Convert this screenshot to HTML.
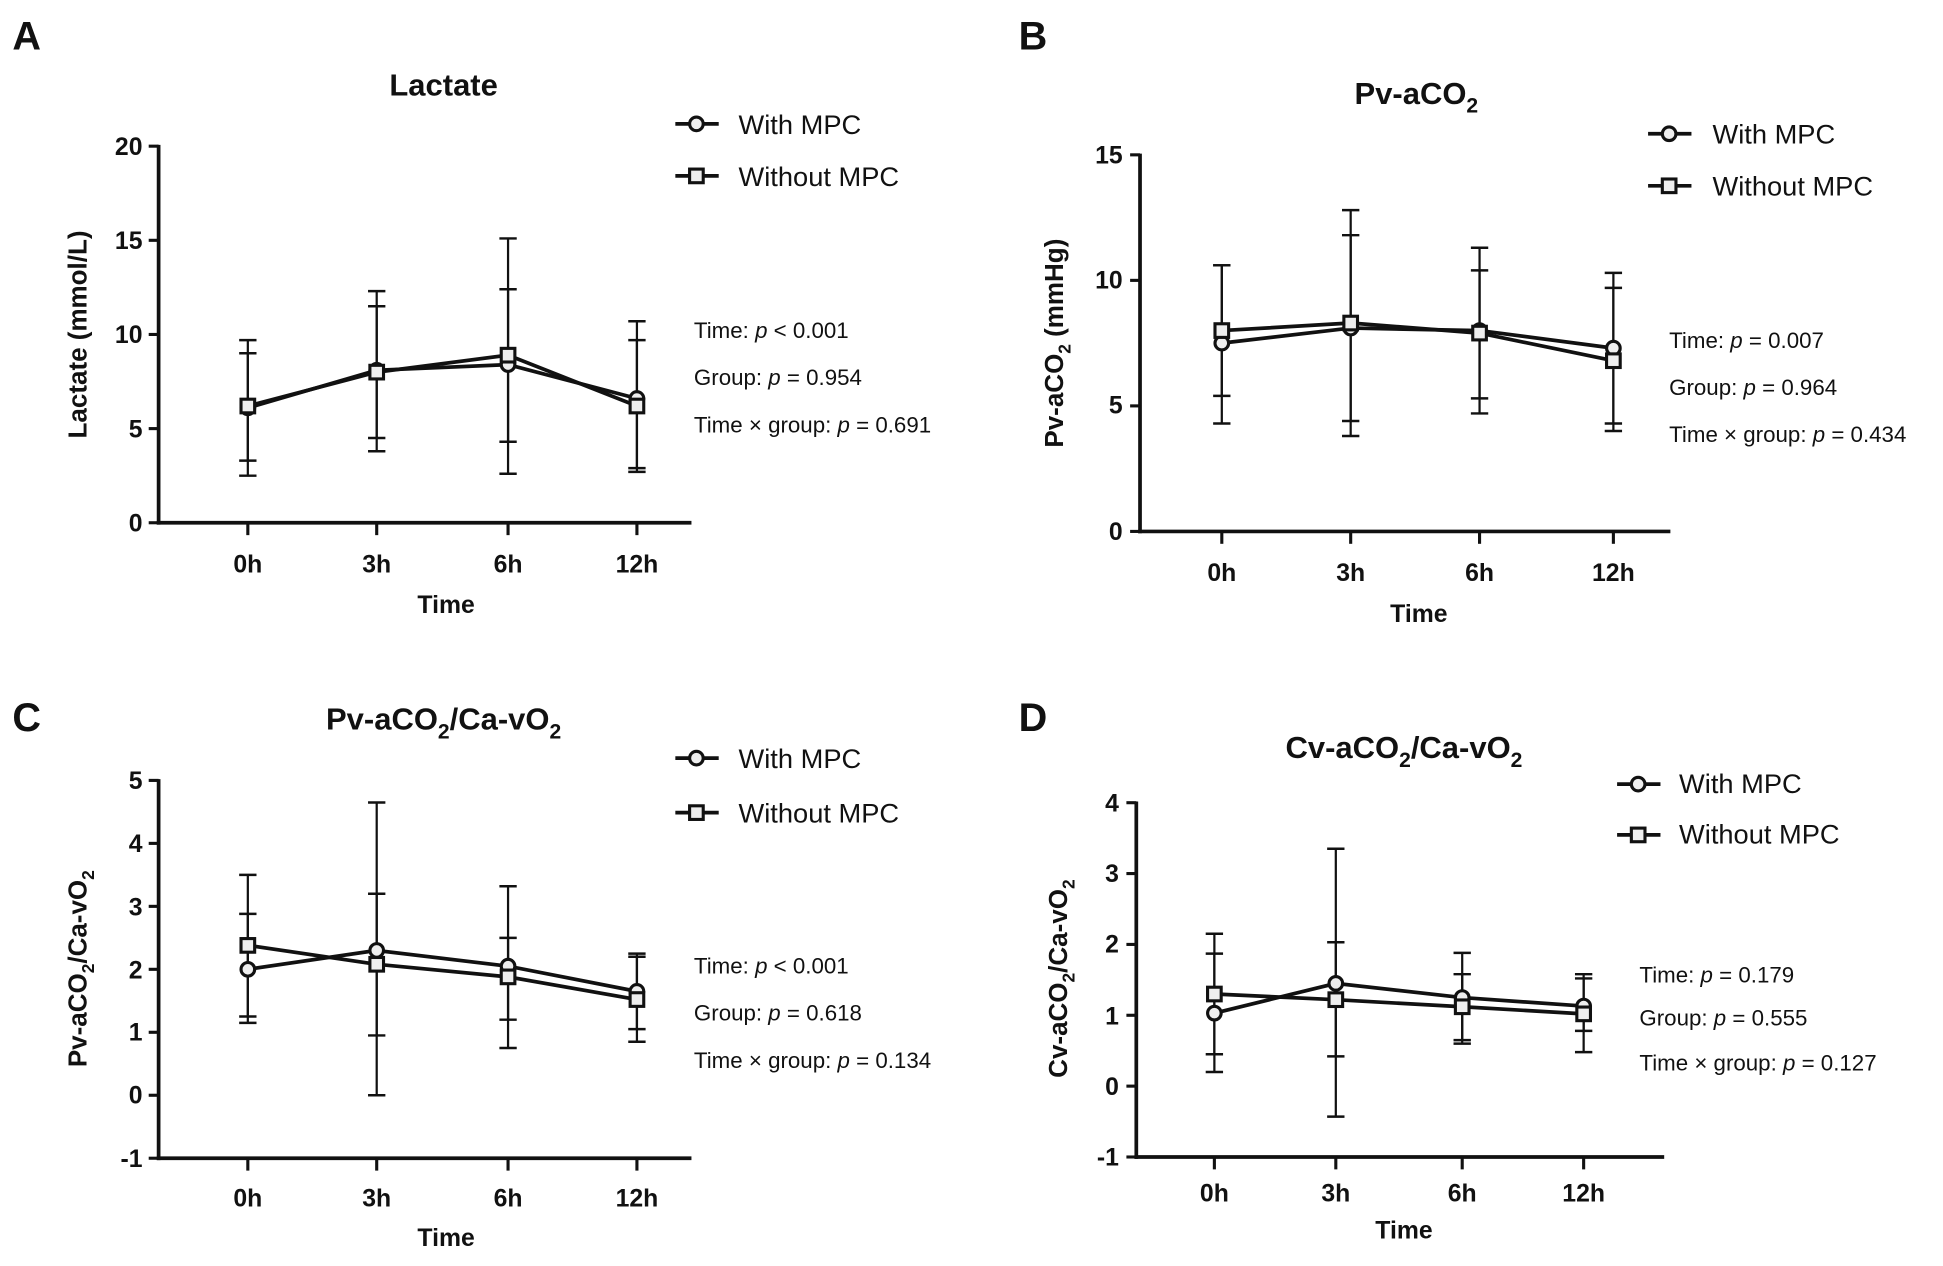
<!DOCTYPE html>
<html><head><meta charset="utf-8"><style>
html,body{margin:0;padding:0;background:#fff}
svg{display:block}
text{font-family:"Liberation Sans",sans-serif;fill:#111}
.tk{font-size:20px;font-weight:bold}
.yl{font-size:21px;font-weight:bold}
.ti{font-size:25px;font-weight:bold}
.lg{font-size:22px}
.st{font-size:18px}
.pl{font-size:32px;font-weight:bold}
</style></head><body>
<svg id="s" width="1943" height="1266" viewBox="0 0 1568 1022" preserveAspectRatio="none" xmlns="http://www.w3.org/2000/svg">
<g id="g" stroke="#111" fill="none"></g>
<!-- Panel A -->
<text class="pl" x="10" y="40">A</text>
<text class="ti" x="358" y="77" text-anchor="middle">Lactate</text>
<text class="lg" x="596" y="108">With MPC</text>
<text class="lg" x="596" y="150">Without MPC</text>
<text class="st" x="560" y="273">Time: <tspan font-style="italic">p</tspan> &lt; 0.001</text>
<text class="st" x="560" y="311">Group: <tspan font-style="italic">p</tspan> = 0.954</text>
<text class="st" x="560" y="349">Time × group: <tspan font-style="italic">p</tspan> = 0.691</text>
<text class="tk" x="115" y="125" text-anchor="end">20</text>
<text class="tk" x="115" y="201" text-anchor="end">15</text>
<text class="tk" x="115" y="277" text-anchor="end">10</text>
<text class="tk" x="115" y="353" text-anchor="end">5</text>
<text class="tk" x="115" y="429" text-anchor="end">0</text>
<text class="tk" x="200" y="462" text-anchor="middle">0h</text>
<text class="tk" x="304" y="462" text-anchor="middle">3h</text>
<text class="tk" x="410" y="462" text-anchor="middle">6h</text>
<text class="tk" x="514" y="462" text-anchor="middle">12h</text>
<text class="tk" x="360" y="495" text-anchor="middle">Time</text>
<text class="yl" transform="translate(70,270) rotate(-90)" text-anchor="middle">Lactate (mmol/L)</text>
<!-- Panel B -->
<text class="pl" x="822" y="40">B</text>
<text class="ti" x="1143" y="84" text-anchor="middle">Pv-aCO<tspan font-size="17" dy="7">2</tspan></text>
<text class="lg" x="1382" y="116">With MPC</text>
<text class="lg" x="1382" y="158">Without MPC</text>
<text class="st" x="1347" y="281">Time: <tspan font-style="italic">p</tspan> = 0.007</text>
<text class="st" x="1347" y="319">Group: <tspan font-style="italic">p</tspan> = 0.964</text>
<text class="st" x="1347" y="357">Time × group: <tspan font-style="italic">p</tspan> = 0.434</text>
<text class="tk" x="906" y="132" text-anchor="end">15</text>
<text class="tk" x="906" y="233" text-anchor="end">10</text>
<text class="tk" x="906" y="334" text-anchor="end">5</text>
<text class="tk" x="906" y="436" text-anchor="end">0</text>
<text class="tk" x="986" y="469" text-anchor="middle">0h</text>
<text class="tk" x="1090" y="469" text-anchor="middle">3h</text>
<text class="tk" x="1194" y="469" text-anchor="middle">6h</text>
<text class="tk" x="1302" y="469" text-anchor="middle">12h</text>
<text class="tk" x="1145" y="502" text-anchor="middle">Time</text>
<text class="yl" transform="translate(858,277) rotate(-90)" text-anchor="middle">Pv-aCO<tspan font-size="14" dy="6">2</tspan><tspan dy="-6"> (mmHg)</tspan></text>
<!-- Panel C -->
<text class="pl" x="10" y="590">C</text>
<text class="ti" x="358" y="589" text-anchor="middle">Pv-aCO<tspan font-size="17" dy="7">2</tspan><tspan dy="-7">/Ca-vO</tspan><tspan font-size="17" dy="7">2</tspan></text>
<text class="lg" x="596" y="620">With MPC</text>
<text class="lg" x="596" y="664">Without MPC</text>
<text class="st" x="560" y="786">Time: <tspan font-style="italic">p</tspan> &lt; 0.001</text>
<text class="st" x="560" y="824">Group: <tspan font-style="italic">p</tspan> = 0.618</text>
<text class="st" x="560" y="862">Time × group: <tspan font-style="italic">p</tspan> = 0.134</text>
<text class="tk" x="115" y="637" text-anchor="end">5</text>
<text class="tk" x="115" y="688" text-anchor="end">4</text>
<text class="tk" x="115" y="739" text-anchor="end">3</text>
<text class="tk" x="115" y="790" text-anchor="end">2</text>
<text class="tk" x="115" y="840" text-anchor="end">1</text>
<text class="tk" x="115" y="891" text-anchor="end">0</text>
<text class="tk" x="115" y="942" text-anchor="end">-1</text>
<text class="tk" x="200" y="974" text-anchor="middle">0h</text>
<text class="tk" x="304" y="974" text-anchor="middle">3h</text>
<text class="tk" x="410" y="974" text-anchor="middle">6h</text>
<text class="tk" x="514" y="974" text-anchor="middle">12h</text>
<text class="tk" x="360" y="1006" text-anchor="middle">Time</text>
<text class="yl" transform="translate(70,782) rotate(-90)" text-anchor="middle">Pv-aCO<tspan font-size="14" dy="6">2</tspan><tspan dy="-6">/Ca-vO</tspan><tspan font-size="14" dy="6">2</tspan></text>
<!-- Panel D -->
<text class="pl" x="822" y="590">D</text>
<text class="ti" x="1133" y="612" text-anchor="middle">Cv-aCO<tspan font-size="17" dy="7">2</tspan><tspan dy="-7">/Ca-vO</tspan><tspan font-size="17" dy="7">2</tspan></text>
<text class="lg" x="1355" y="640" font-size="20">With MPC</text>
<text class="lg" x="1355" y="681" font-size="20">Without MPC</text>
<text class="st" x="1323" y="793" font-size="17">Time: <tspan font-style="italic">p</tspan> = 0.179</text>
<text class="st" x="1323" y="828" font-size="17">Group: <tspan font-style="italic">p</tspan> = 0.555</text>
<text class="st" x="1323" y="864" font-size="17">Time × group: <tspan font-style="italic">p</tspan> = 0.127</text>
<text class="tk" x="903" y="655" text-anchor="end">4</text>
<text class="tk" x="903" y="712" text-anchor="end">3</text>
<text class="tk" x="903" y="769" text-anchor="end">2</text>
<text class="tk" x="903" y="827" text-anchor="end">1</text>
<text class="tk" x="903" y="884" text-anchor="end">0</text>
<text class="tk" x="903" y="941" text-anchor="end">-1</text>
<text class="tk" x="980" y="970" text-anchor="middle">0h</text>
<text class="tk" x="1078" y="970" text-anchor="middle">3h</text>
<text class="tk" x="1180" y="970" text-anchor="middle">6h</text>
<text class="tk" x="1278" y="970" text-anchor="middle">12h</text>
<text class="tk" x="1133" y="1000" text-anchor="middle">Time</text>
<text class="yl" transform="translate(861,790) rotate(-90)" text-anchor="middle">Cv-aCO<tspan font-size="14" dy="6">2</tspan><tspan dy="-6">/Ca-vO</tspan><tspan font-size="14" dy="6">2</tspan></text>
</svg>
<script>
var g=document.getElementById('g'),NS='http://www.w3.org/2000/svg';
function el(t,a){var e=document.createElementNS(NS,t);for(var k in a)e.setAttribute(k,a[k]);g.appendChild(e);return e;}
function L(x1,y1,x2,y2,w){el('line',{x1:x1,y1:y1,x2:x2,y2:y2,'stroke-width':w||2});}
function circ(x,y){el('circle',{cx:x,cy:y,r:5.5,'stroke-width':2.5,fill:'#eee'});}
function sq(x,y){el('rect',{x:x-5.5,y:y-5.5,width:11,height:11,'stroke-width':2.5,fill:'#eee'});}
var P=[
{ax:128,top:118,bot:422,x2:558,ymin:0,ymax:20,ticks:[0,5,10,15,20],xs:[200,304,410,514],
 a:[6.1,8.1,8.4,6.6],b:[6.2,8.0,8.9,6.2],ea:[[9.7,2.5],[12.3,3.8],[15.1,2.6],[10.7,2.7]],eb:[[9.0,3.3],[11.5,4.5],[12.4,4.3],[9.7,2.9]],leg:[545,100,142]},
{ax:920,top:125,bot:429,x2:1348,ymin:0,ymax:15,ticks:[0,5,10,15],xs:[986,1090,1194,1302],
 a:[7.5,8.1,8.0,7.3],b:[8.0,8.3,7.9,6.8],ea:[[10.6,4.3],[12.8,3.8],[11.3,4.7],[10.3,4.0]],eb:[[10.6,5.4],[11.8,4.4],[10.4,5.3],[9.7,4.3]],leg:[1330,108,150]},
{ax:128,top:630,bot:935,x2:558,ymin:-1,ymax:5,ticks:[-1,0,1,2,3,4,5],xs:[200,304,410,514],
 a:[2.0,2.3,2.05,1.65],b:[2.38,2.08,1.88,1.52],ea:[[3.5,1.15],[4.65,0.0],[3.32,0.75],[2.25,0.85]],eb:[[2.88,1.25],[3.2,0.95],[2.5,1.2],[2.2,1.05]],leg:[545,612,656]},
{ax:917,top:648,bot:934,x2:1343,ymin:-1,ymax:4,ticks:[-1,0,1,2,3,4],xs:[980,1078,1180,1278],
 a:[1.03,1.45,1.25,1.13],b:[1.3,1.22,1.12,1.02],ea:[[2.15,0.2],[3.35,-0.43],[1.88,0.6],[1.58,0.48]],eb:[[1.87,0.45],[2.03,0.42],[1.58,0.65],[1.52,0.78]],leg:[1305,633,674]}
];
P.forEach(function(p){
 var Y=function(v){return p.bot-(v-p.ymin)/(p.ymax-p.ymin)*(p.bot-p.top);};
 L(p.ax,p.top-1,p.ax,p.bot+1.5,3);L(p.ax-1.5,p.bot,p.x2,p.bot,3);
 p.ticks.forEach(function(t){L(p.ax-8,Y(t),p.ax,Y(t),2.5);});
 p.xs.forEach(function(x){L(x,p.bot,x,p.bot+10,2.5);});
 [p.ea,p.eb].forEach(function(q){q.forEach(function(e,i){var x=p.xs[i];L(x,Y(e[0]),x,Y(e[1]),1.8);L(x-7,Y(e[0]),x+7,Y(e[0]),2);L(x-7,Y(e[1]),x+7,Y(e[1]),2);});});
 [p.a,p.b].forEach(function(d){el('polyline',{points:d.map(function(v,i){return p.xs[i]+','+Y(v);}).join(' '),'stroke-width':3});});
 p.a.forEach(function(v,i){circ(p.xs[i],Y(v));});
 p.b.forEach(function(v,i){sq(p.xs[i],Y(v));});
 var lx=p.leg[0];L(lx,p.leg[1],lx+35,p.leg[1],3);circ(lx+17,p.leg[1]);
 L(lx,p.leg[2],lx+35,p.leg[2],3);sq(lx+17,p.leg[2]);
});
</script>
</body></html>
